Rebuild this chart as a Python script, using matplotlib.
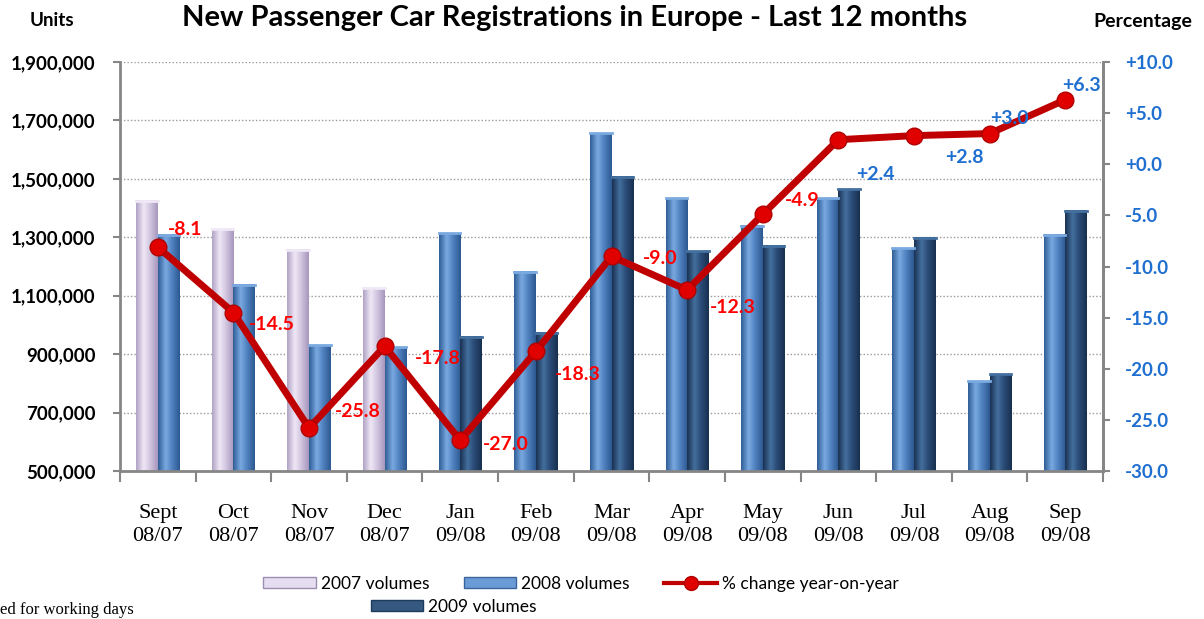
import numpy as np
import matplotlib.pyplot as plt
from matplotlib.colors import LinearSegmentedColormap
from matplotlib.patches import Patch
from matplotlib.lines import Line2D

plt.rcParams['font.family'] = ['Lato', 'DejaVu Sans']

months = ['Sept\n08/07', 'Oct\n08/07', 'Nov\n08/07', 'Dec\n08/07', 'Jan\n09/08',
          'Feb\n09/08', 'Mar\n09/08', 'Apr\n09/08', 'May\n09/08', 'Jun\n09/08',
          'Jul\n09/08', 'Aug\n09/08', 'Sep\n09/08']

# volumes (units), None where the series has no bar
vol_2007 = [1425000, 1328000, 1257000, 1125000, None, None, None, None, None, None, None, None, None]
vol_2008 = [1308000, 1137000, 931000, 923000, 1314000, 1182000, 1656000, 1433000,
            1339000, 1433000, 1262000, 808000, 1308000]
vol_2009 = [None, None, None, None, 960000, 973000, 1507000, 1253000, 1271000,
            1464000, 1299000, 831000, 1390000]

pct_change = [-8.1, -14.5, -25.8, -17.8, -27.0, -18.3, -9.0, -12.3, -4.9, 2.4, 2.8, 3.0, 6.3]

# label offsets in pixels (style only)
lab_off = [(10, 18), (15, -12), (26, 17), (30, -12), (23, -4), (19, -23), (31, -2),
           (23, -17), (22, 14), (18, -35), (31, -22), (1, 15), (-3, 14)]

c07 = ['#b0a2c4', '#efe8f6', '#d6cbe3', '#a796bd']
c08 = ['#2f5e97', '#7aaae0', '#5587c6', '#2c5890']
c09 = ['#1a3152', '#44709f', '#2d4f7b', '#18304f']

fig = plt.figure(figsize=(12.04, 6.19), dpi=100)
ax = fig.add_axes([120/1204, 1-471/619, 983/1204, 409/619])

ymin, ymax = 500000, 1900000
x = np.arange(len(months))
w = 0.285


def grad_bar(xc, h, cols):
    cmap = LinearSegmentedColormap.from_list('g', list(zip([0, 0.35, 0.6, 1], cols)))
    g = np.linspace(0, 1, 64).reshape(1, -1)
    ax.imshow(g, cmap=cmap, extent=[xc - w/2, xc + w/2, ymin, h],
              aspect='auto', zorder=2, interpolation='bicubic')
    ax.plot([xc - w/2, xc + w/2], [h, h], color=cols[1], lw=2, zorder=3)


for i in range(len(months)):
    if vol_2007[i] is not None:
        grad_bar(x[i] - w/2, vol_2007[i], c07)
        grad_bar(x[i] + w/2, vol_2008[i], c08)
    else:
        grad_bar(x[i] - w/2, vol_2008[i], c08)
        grad_bar(x[i] + w/2, vol_2009[i], c09)

ax.set_xlim(-0.5, len(months) - 0.5)
ax.set_ylim(ymin, ymax)
ax.set_yticks(np.arange(500000, 1900001, 200000))
ax.set_yticklabels(['{:,}'.format(v) for v in range(500000, 1900001, 200000)],
                   fontsize=13.5, fontweight='bold')
ax.yaxis.grid(True, linestyle=(0, (1, 1.5)), color='#9a9a9a', lw=1)
ax.set_axisbelow(True)
ax.set_xticks(x)
ax.set_xticklabels(months, fontsize=16, family='Liberation Serif', linespacing=1.25)
ax.set_xticks(np.arange(-0.5, len(months)), minor=True)
ax.tick_params(axis='x', which='major', length=0, pad=24)
ax.tick_params(axis='x', which='minor', length=8, color='#868686', width=1.5)
ax.tick_params(axis='y', length=5, color='#868686', width=1.5, pad=12.5)
for s in ['top']:
    ax.spines[s].set_visible(False)
for s in ['left', 'bottom', 'right']:
    ax.spines[s].set_color('#868686')
    ax.spines[s].set_linewidth(2)

ax2 = ax.twinx()
ax2.set_ylim(-30, 10)
ax2.plot(x, pct_change, color='#c00000', lw=5, zorder=4,
         marker='o', ms=12, mfc='#e00000', mec='#b00000', mew=1)
ax2.set_yticks(np.arange(-30, 10.1, 5))
ax2.set_yticklabels(['{:+.1f}'.format(v) for v in np.arange(-30, 10.1, 5)],
                    fontsize=13.5, fontweight='bold', color='#1f6fd0')
ax2.tick_params(axis='y', length=5, color='#868686', width=1.5, pad=11)
for s in ['top', 'left', 'bottom']:
    ax2.spines[s].set_visible(False)
ax2.spines['right'].set_color('#868686')
ax2.spines['right'].set_linewidth(2)

for i, v in enumerate(pct_change):
    col = '#ff0000' if v < 0 else '#1f6fd0'
    txt = '{:+.1f}'.format(v) if v > 0 else '{:.1f}'.format(v)
    ax2.annotate(txt, (x[i], v), xytext=(lab_off[i][0], lab_off[i][1]),
                 textcoords='offset pixels', ha='left', va='center',
                 fontsize=14, fontweight='bold', color=col, zorder=5)

fig.text(575/1204, 1-18/619, 'New Passenger Car Registrations in Europe - Last 12 months',
         ha='center', va='center', fontsize=21, fontweight='bold')
fig.text(52/1204, 1-21/619, 'Units', ha='center', va='center', fontsize=13.5, fontweight='bold')
fig.text(1143/1204, 1-21/619, 'Percentage', ha='center', va='center', fontsize=14, fontweight='bold')
fig.text(0.0, 0.002, 'ed for working days', ha='left', va='bottom',
         fontsize=12, family='Liberation Serif')

h07 = Patch(facecolor='#e6def0', edgecolor='#9c8db2', label='2007 volumes')
h08 = Patch(facecolor='#6b9bd6', edgecolor='#3a659c', label='2008 volumes')
h09 = Patch(facecolor='#34587f', edgecolor='#1e3a5c', label='2009 volumes')
hpc = Line2D([], [], color='#c00000', lw=3, marker='o', ms=10, mfc='#e00000',
             mec='#b00000', label='% change year-on-year')
fig.legend(handles=[h07, h08, hpc], ncol=3, loc='center', frameon=False,
           bbox_to_anchor=(581/1204, 1-584/619), fontsize=12.5,
           handlelength=3.0, handleheight=0.6, columnspacing=2.0, handletextpad=0.3)
fig.legend(handles=[h09], loc='center', frameon=False,
           bbox_to_anchor=(454/1204, 1-607/619), fontsize=12.5,
           handlelength=3.0, handleheight=0.6, handletextpad=0.3)

fig.savefig('out.png', dpi=100)
